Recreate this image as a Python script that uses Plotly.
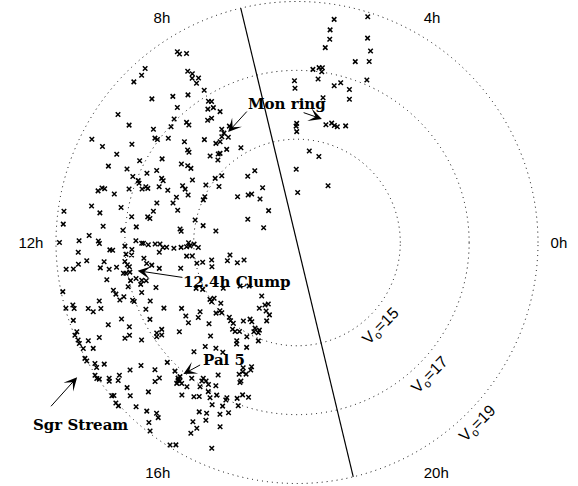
import numpy as np
import plotly.graph_objects as go

# Candidate stars: right ascension (hours) and dereddened magnitude V0, by sky sector
ra_4h_7h = [5.37, 4.84, 5.41, 5.39, 5.45, 4.73, 4.60, 4.55, 4.81, 5.65, 5.52, 5.45, 5.45, 5.51,
            6.06, 6.05, 4.98, 5.11, 4.74, 4.45, 5.32, 4.66, 5.08, 4.92, 4.82, 4.72, 4.49, 6.01,
            6.03, 6.01, 5.49, 5.05, 6.04, 4.09, 5.95]
v0_4h_7h = [18.57, 18.87, 18.25, 17.98, 17.72, 18.28, 17.96, 17.66, 17.52, 17.05, 17.12, 17.13,
            17.01, 16.79, 16.70, 16.48, 16.81, 16.68, 16.70, 17.14, 16.27, 16.43, 15.52, 15.61,
            15.57, 15.56, 15.67, 15.46, 15.38, 15.22, 14.68, 14.58, 14.13, 13.88, 13.45]

ra_8h_10h = [8.14, 8.13, 8.02, 9.07, 9.20, 8.74, 8.86, 9.03, 8.17, 8.12, 8.06, 8.17, 8.15, 8.09,
             9.02, 8.69, 8.43, 8.14, 8.08, 8.77, 8.25, 8.12, 9.63, 9.67, 8.99, 9.16, 9.45, 8.84,
             8.84, 8.41, 8.30, 9.58, 9.57, 9.40, 10.22, 8.03,
             8.24, 8.25, 8.01, 8.36, 8.21, 8.80, 8.49, 8.62, 8.04, 8.47, 8.78, 8.72, 9.01, 8.92,
             8.03, 8.44, 9.46, 9.23, 9.85, 9.62, 8.14, 10.24, 10.37, 9.49, 9.05, 8.87, 8.69, 8.78,
             10.32, 10.40, 11.32, 11.46]
v0_8h_10h = [18.54, 18.45, 18.36, 19.23, 19.11, 18.71, 18.63, 18.65, 17.90, 17.77, 17.57, 17.66,
             17.47, 17.18, 17.93, 17.57, 17.33, 16.84, 16.79, 17.24, 16.66, 16.61, 18.39, 17.95,
             17.06, 16.97, 17.31, 16.74, 16.64, 16.40, 16.38, 17.12, 17.04, 16.81, 18.67, 16.41,
             15.95, 15.82, 15.91, 15.77, 15.65, 16.02, 15.68, 15.72, 15.20, 15.39, 15.44, 15.42,
             15.56, 15.32,
             14.42, 14.40, 15.02, 14.92, 15.13, 14.79, 13.88, 14.99, 14.99, 14.18, 13.98, 13.93,
             13.66, 13.24, 13.58, 13.06, 14.77, 14.38]

ra_10h_12h = [10.25, 9.95, 9.21, 10.26, 9.32, 9.34, 10.17, 9.88, 10.53, 9.72, 9.66, 9.67, 10.44,
              10.19, 10.35, 10.54, 10.31, 10.35, 9.94, 10.58, 10.63, 10.96, 10.96, 11.03, 11.01,
              10.82, 10.73, 10.65, 10.67, 10.53, 10.53, 10.24, 10.30, 10.43, 10.63, 10.82, 10.95,
              11.33, 11.25, 10.99, 11.18, 11.53, 11.49, 11.43, 11.41, 11.35, 11.38, 11.17, 11.70,
              11.68, 11.63, 11.56, 11.63, 11.73, 11.87, 11.97, 12.02, 11.97, 11.96, 12.02, 12.02,
              12.04, 12.04, 12.00, 12.01]
v0_10h_12h = [18.30, 17.58, 16.39, 17.83, 16.16, 16.09, 17.15, 16.61, 17.91, 16.06, 15.88, 15.76,
              17.38, 16.58, 16.80, 17.14, 16.35, 16.28, 15.54, 16.95, 16.90, 17.88, 17.80, 17.97,
              17.49, 17.12, 16.76, 16.68, 16.61, 16.32, 16.05, 15.71, 15.60, 15.45, 15.74, 15.78,
              16.23, 18.06, 17.21, 15.59, 16.27, 19.13, 18.83, 17.79, 16.86, 16.40, 16.33, 15.03,
              18.81, 17.65, 16.69, 15.42, 15.38, 17.07, 18.04, 17.77, 17.74, 18.33, 16.68, 16.51,
              16.46, 16.12, 15.98, 18.90, 15.15]

ra_12h_15h = [12.15, 12.16, 12.08, 12.16, 12.26, 12.29, 12.06, 12.27, 12.14, 12.14, 12.18, 12.16,
              12.15, 12.12, 12.19, 12.06, 12.47, 12.49, 12.78, 12.79, 12.77, 12.17, 12.33, 12.44,
              12.45, 12.38, 12.49, 12.38, 12.54, 12.52, 12.42, 12.50, 12.55, 12.67, 12.68, 12.67,
              12.39, 12.53, 12.59, 12.71, 12.74, 12.86, 12.84, 12.91, 12.95, 13.00, 13.18, 12.98,
              12.83, 13.63, 13.76, 12.83, 12.89, 12.79, 12.97, 13.06, 13.20, 13.16, 13.29, 13.33,
              13.19, 13.45, 13.10, 13.04, 13.10, 13.06, 13.17, 13.25, 13.24, 13.59, 13.75, 13.98,
              13.12, 13.19, 13.28, 13.57, 13.84, 14.23, 14.37, 14.48, 14.43, 13.57, 13.78, 13.39,
              13.47, 13.47, 13.51, 13.71, 13.68, 13.60, 13.66, 13.94, 13.93, 14.19, 14.18, 14.29,
              14.26, 14.14, 14.48, 15.15, 13.67, 13.76, 13.83, 15.24]
v0_12h_15h = [17.44, 17.36, 17.00, 16.80, 16.98, 16.82, 16.32, 16.01, 15.90, 15.79, 15.58, 15.37,
              15.21, 15.11, 14.87, 14.99, 15.23, 15.07, 14.97, 14.80, 14.53, 18.36, 18.13, 18.75,
              18.54, 18.38, 17.76, 17.63, 17.51, 17.29, 17.03, 16.97, 16.92, 17.12, 17.05, 16.93,
              16.47, 16.41, 16.27, 16.07, 17.63, 16.96, 16.79, 16.64, 16.52, 16.70, 16.30, 17.07,
              15.46, 15.22, 15.06, 19.30, 19.05, 18.95, 17.51, 17.47, 17.41, 17.27, 17.06, 17.03,
              16.74, 16.59, 17.99, 18.76, 18.75, 18.98, 18.36, 18.25, 18.01, 16.80, 16.31, 15.86,
              19.44, 19.32, 18.88, 17.56, 16.82, 15.87, 15.46, 15.60, 15.92, 17.98, 17.45, 19.39,
              19.11, 18.90, 18.99, 18.37, 18.70, 18.96, 18.97, 17.72, 17.56, 16.85, 16.67, 16.76,
              16.91, 17.33, 16.29, 15.70, 19.27, 18.93, 18.67, 16.03]

ra_inner_south = [13.06, 12.70, 12.98, 13.25, 13.22, 14.12, 14.49, 14.82, 14.21, 14.26, 14.32,
                  14.57, 15.77, 16.01, 16.19, 16.33, 14.74, 14.77, 14.87, 16.38, 16.61, 15.19,
                  15.31, 15.45, 15.71, 15.90, 16.02, 16.59, 14.85, 15.56, 15.68, 15.81, 16.26,
                  16.45, 16.28, 16.45, 16.13, 15.90, 15.95, 16.57, 15.50, 16.29]
v0_inner_south = [14.57, 13.98, 14.09, 13.83, 13.62, 14.52, 14.08, 13.88, 15.02, 14.90, 15.02,
                  14.83, 13.86, 14.20, 14.04, 13.97, 15.12, 14.99, 14.99, 14.18, 14.25, 14.93,
                  14.98, 14.99, 14.76, 14.61, 14.65, 14.44, 15.48, 15.14, 15.15, 15.08, 14.77,
                  14.77, 14.88, 14.85, 15.10, 15.35, 15.43, 15.07, 15.87, 15.38]

ra_14h_17h = [13.73, 13.77, 13.88, 13.91, 13.96, 13.99, 14.03, 13.89, 14.06, 14.15, 14.13, 14.15,
              14.17, 14.22, 14.28, 14.31, 14.39, 14.43, 14.45, 14.51, 14.49, 14.55, 14.79, 14.96,
              14.97, 14.27, 14.35, 14.32, 14.35, 14.40, 14.43, 14.49, 14.55, 14.60, 14.57, 14.60,
              14.64, 14.66, 14.53, 14.58, 14.73, 14.78, 14.77, 14.83, 14.51, 14.60, 14.53, 14.70,
              14.84, 15.04, 15.01, 14.90, 14.95, 14.98, 15.03, 15.07, 15.13, 15.17, 15.36, 15.22,
              15.37, 15.44, 15.37, 15.47, 15.59, 15.86, 15.94, 15.59,
              15.10, 15.26, 15.28, 15.30, 15.38, 15.51, 15.25, 15.32, 14.85, 15.11, 15.48, 15.69,
              15.78, 15.70, 15.53, 15.75, 15.84, 16.16, 16.00, 15.99, 16.19, 16.11, 16.06, 15.95,
              16.50,
              15.73, 16.45, 16.66, 16.48, 16.67, 16.42, 16.59, 16.53, 16.52, 15.95, 15.74, 15.87,
              16.03, 16.15, 16.05, 16.38, 16.38, 16.60, 16.69, 16.84, 16.68, 16.37, 16.14, 16.39,
              16.54, 16.49]
v0_14h_17h = [19.14, 19.35, 19.15, 19.02, 19.01, 19.06, 19.20, 19.74, 18.84, 18.62, 18.86, 19.11,
              19.25, 19.02, 19.03, 18.98, 18.73, 18.78, 18.44, 18.56, 18.10, 17.77, 17.54, 17.77,
              17.61, 19.54, 19.60, 19.26, 19.18, 19.13, 19.12, 19.14, 19.16, 19.17, 19.26, 19.11,
              18.98, 18.93, 19.44, 19.36, 19.19, 19.17, 19.03, 19.03, 19.15, 19.22, 19.25, 18.49,
              18.58, 18.68, 18.12, 19.28, 19.31, 19.20, 19.19, 19.10, 19.11, 19.26, 19.23, 18.56,
              18.42, 18.49, 18.77, 18.94, 19.28, 18.94, 18.85, 19.10,
              17.15, 17.17, 17.28, 17.38, 17.29, 17.27, 17.24, 17.27, 17.13, 16.36, 16.99, 16.79,
              16.81, 16.88, 17.55, 17.39, 17.30, 17.32, 17.68, 18.02, 17.80, 18.13, 18.34, 17.04,
              18.47,
              15.85, 15.96, 15.84, 16.07, 15.94, 16.18, 16.10, 16.34, 16.39, 16.48, 17.05, 16.86,
              16.78, 17.01, 17.17, 16.95, 17.02, 16.85, 16.70, 16.71, 17.04, 17.22, 17.61, 17.47,
              17.33, 17.80]

# Magnitude rings and hour labels
ring_mags = [15, 17, 19]
hour_ticks = [0, 4, 8, 12, 16, 20]

# Great-circle boundary crossing the field (RA hours, V0 at the rim)
cut_ra = [6.9, 18.9]
cut_v0 = [19.0, 19.0]

MAG_CENTRE = 12.0
MAG_LIMIT = 19.03   # radial axis runs a hair past the faintest ring so that ring is drawn

ra_all = np.concatenate([ra_4h_7h, ra_8h_10h, ra_10h_12h, ra_12h_15h, ra_inner_south, ra_14h_17h])
v0_all = np.concatenate([v0_4h_7h, v0_8h_10h, v0_10h_12h, v0_12h_15h, v0_inner_south, v0_14h_17h])

# Figure geometry (pixels); the V0=19 ring has a radius of 241 px
W, H = 578, 486
CX, CY = 297.0, 243.5              # CY measured from the bottom
span = MAG_LIMIT - MAG_CENTRE
RAD = 241.0 * span / (19.0 - MAG_CENTRE)
dom_x = [(CX - RAD) / W, (CX + RAD) / W]
dom_y = [(CY - RAD) / H, (CY + RAD) / H]


def to_xy(ra_h, v0):
    """Project (RA hours, V0) onto the helper cartesian frame shared with the polar plot."""
    ang = np.deg2rad(ra_h * 15.0)
    rr = v0 - MAG_CENTRE
    return float(rr * np.cos(ang)), float(rr * np.sin(ang))


fig = go.Figure()

fig.add_trace(go.Scatterpolar(
    r=v0_all, theta=ra_all * 15.0, mode="markers",
    marker=dict(symbol="x-thin", size=4.5, color="black", line=dict(width=1.5, color="black")),
    cliponaxis=False, showlegend=False, hoverinfo="skip"))

fig.add_trace(go.Scatterpolar(
    r=cut_v0, theta=np.array(cut_ra) * 15.0, mode="lines",
    line=dict(color="black", width=1.2), cliponaxis=False, showlegend=False, hoverinfo="skip"))

# Invisible cartesian frame used to place labels and arrows
fig.add_trace(go.Scatter(x=[None], y=[None], xaxis="x", yaxis="y",
                         showlegend=False, hoverinfo="skip"))

annotations = []

label_font = dict(family="DejaVu Serif", size=15, color="black", weight="bold")
feature_labels = [
    ("Mon ring", 6.28, 16.03),
    ("12.4h Clump", 14.20, 14.08),
    ("Pal 5", 15.87, 16.01),
    ("Sgr Stream", 14.68, 20.22),
]
for txt, ra, v0 in feature_labels:
    x, y = to_xy(ra, v0)
    annotations.append(dict(x=x, y=y, xref="x", yref="y", text=txt, showarrow=False,
                            font=label_font, xanchor="center", yanchor="middle"))

# Arrows: (tail RA, tail V0) -> (tip RA, tip V0)
feature_arrows = [
    ((7.35, 16.10), (8.13, 15.78)),
    ((5.85, 15.79), (5.24, 15.66)),
    ((13.15, 15.44), (12.67, 16.70)),
    ((15.46, 16.49), (15.28, 17.05)),
    ((14.25, 20.64), (14.10, 19.49)),
]
for (ra0, v00), (ra1, v01) in feature_arrows:
    ax_, ay_ = to_xy(ra0, v00)
    x, y = to_xy(ra1, v01)
    annotations.append(dict(x=x, y=y, ax=ax_, ay=ay_, xref="x", yref="y", axref="x", ayref="y",
                            text="", showarrow=True, arrowhead=3, arrowsize=2.2,
                            arrowwidth=1, arrowcolor="black"))

# Ring magnitude labels, written along the rings
for m in ring_mags:
    x, y = to_xy(21.0, m + 0.45)
    annotations.append(dict(x=x, y=y, xref="x", yref="y", text=f"V<sub>o</sub>={m}",
                            showarrow=False, textangle=-45,
                            font=dict(family="Liberation Sans", size=16, color="black")))

fig.update_layout(
    width=W, height=H,
    margin=dict(l=0, r=0, t=0, b=0),
    paper_bgcolor="white", plot_bgcolor="rgba(0,0,0,0)",
    showlegend=False,
    polar=dict(
        domain=dict(x=dom_x, y=dom_y),
        bgcolor="white",
        radialaxis=dict(range=[MAG_CENTRE, MAG_LIMIT], tickvals=ring_mags, showticklabels=False,
                        ticks="", showline=False, showgrid=True, gridcolor="black",
                        gridwidth=1, griddash="1px,4px"),
        angularaxis=dict(rotation=0, direction="counterclockwise",
                         tickvals=[h * 15 for h in hour_ticks],
                         ticktext=[f"{h}h" for h in hour_ticks],
                         showgrid=False, showline=False, ticks="outside", ticklen=8,
                         tickcolor="rgba(0,0,0,0)",
                         tickfont=dict(family="Liberation Sans", size=15, color="black")),
    ),
    xaxis=dict(domain=dom_x, range=[-span, span], visible=False, fixedrange=True),
    yaxis=dict(domain=dom_y, range=[-span, span], visible=False, fixedrange=True),
    annotations=annotations,
)

fig.write_html("out.html")
